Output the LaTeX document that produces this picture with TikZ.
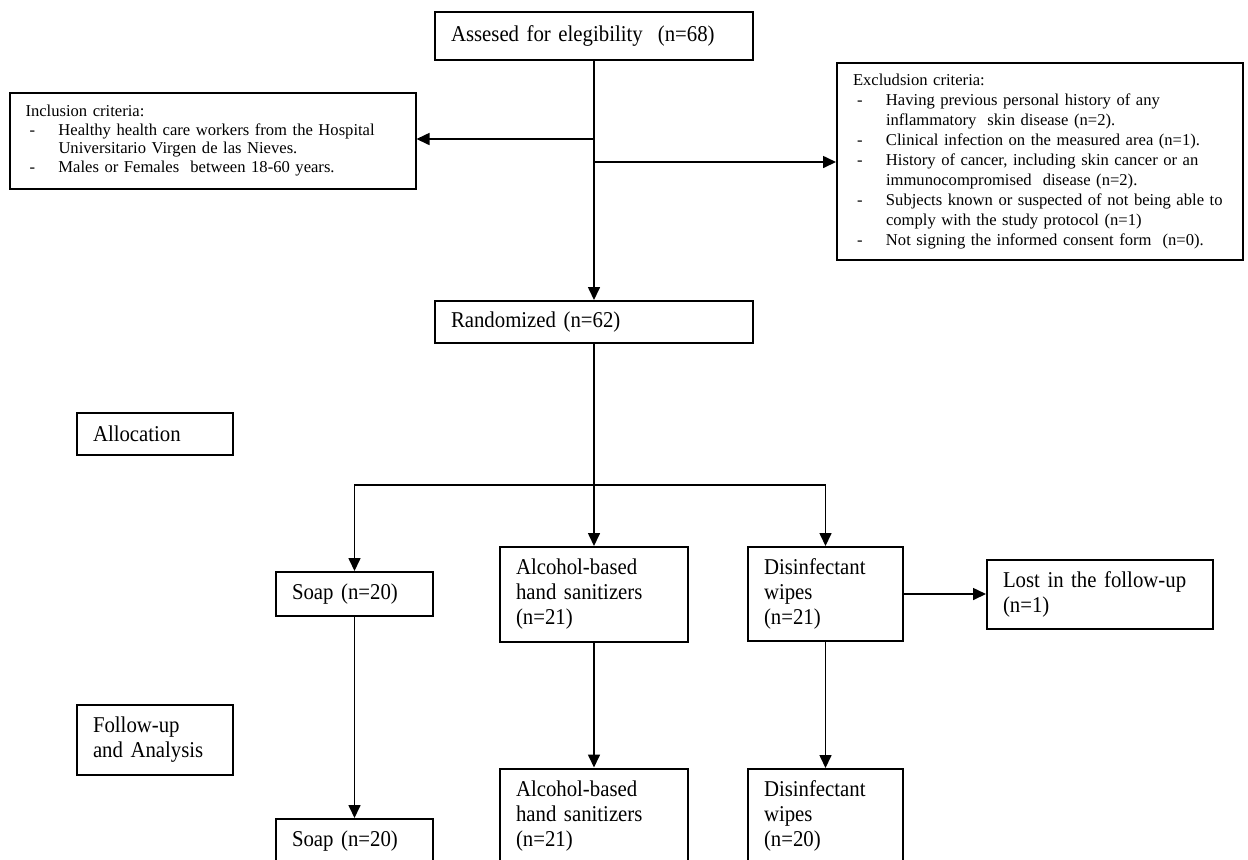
\documentclass[tikz,border=0pt]{standalone}
\usepackage{fontspec}
\setmainfont{Liberation Serif}
\newfontfamily\boxfont[FakeStretch=0.92]{Liberation Serif}
\usetikzlibrary{arrows.meta}
\newcommand{\critdash}{\makebox[16.5pt][l]{\hspace{2pt}-}}
\newcommand{\critgap}{\hspace*{16.5pt}}

\begin{document}
\begin{tikzpicture}[x=0.5pt, y=-0.5pt,
    box/.style={draw, line width=1pt, inner xsep=8pt, inner ysep=0pt, align=left,
        font=\boxfont\fontsize{11.3}{12.5}\selectfont},
    crit/.style={box, font=\rmfamily\fontsize{8.3}{10}\selectfont},
    arw/.style={line width=0.8pt, -{Triangle[length=6.5pt,width=6pt]}}]
    \useasboundingbox (0,0) rectangle (1248,859);
    \clip (0,0) rectangle (1248,859);

    % screening
    \node[box, text width=143pt, minimum height=24pt] (assess) at (594,36)
        {Assesed for elegibility\ \ (n=68)};
    \node[crit, font=\rmfamily\fontsize{8.3}{9.2}\selectfont, text width=187pt, minimum height=48pt] (incl) at (212.5,140.5)
        {Inclusion criteria:\\
        \critdash Healthy health care workers from the Hospital\\
        \critgap Universitario Virgen de las Nieves.\\
        \critdash Males or Females\ \ between 18-60 years.};
    \node[crit, text width=187pt, minimum height=98.5pt] (excl) at (1040,161.5)
        {Excludsion criteria:\\
        \critdash Having previous personal history of any\\
        \critgap inflammatory\ \ skin disease (n=2).\\
        \critdash Clinical infection on the measured area (n=1).\\
        \critdash History of cancer, including skin cancer or an\\
        \critgap immunocompromised\ \ disease (n=2).\\
        \critdash Subjects known or suspected of not being able to\\
        \critgap comply with the study protocol (n=1)\\
        \critdash Not signing the informed consent form\ \ (n=0).};
    \node[box, text width=143pt, minimum height=21pt] (rand) at (594,322) {Randomized (n=62)};

    % allocation
    \node[box, text width=62pt, minimum height=21pt] (alloc) at (155,434) {Allocation};
    \node[box, text width=62.5pt, minimum height=22pt] (soap1) at (354.5,594) {Soap (n=20)};
    \node[box, text width=78pt, minimum height=47.5pt] (alc1) at (594,594.5)
        {Alcohol-based\\hand sanitizers\\(n=21)};
    \node[box, text width=61.5pt, minimum height=47pt] (dis1) at (825.5,594)
        {Disinfectant\\wipes\\(n=21)};
    \node[box, text width=97pt, minimum height=34.5pt] (lost) at (1100,594.5)
        {Lost in\ the follow-up\\(n=1)};

    % follow-up
    \node[box, text width=62pt, minimum height=35pt] (follow) at (155,740) {Follow-up\\and Analysis};
    \node[box, text width=62.5pt, minimum height=22pt] (soap2) at (354.5,841) {Soap (n=20)};
    \node[box, text width=78pt, minimum height=47.5pt] (alc2) at (594,816)
        {Alcohol-based\\hand sanitizers\\(n=21)};
    \node[box, text width=61.5pt, minimum height=47pt] (dis2) at (825.5,816)
        {Disinfectant\\wipes\\(n=20)};

    \coordinate (tl) at (594,139);
    \coordinate (tr) at (594,162);
    \coordinate (split) at (594,485);

    \draw[arw] (assess) -- (rand);
    \draw[arw] (tl) -- (incl.east |- tl);
    \draw[arw] (tr) -- (excl.west |- tr);
    \draw[line width=0.8pt] (rand) -- (split);
    \draw[arw] (split) -| (soap1);
    \draw[arw] (split) -- (alc1);
    \draw[arw] (split) -| (dis1);
    \draw[arw] (dis1.east) -- (lost.west |- dis1.east);
    \draw[arw] (soap1) -- (soap2);
    \draw[arw] (alc1) -- (alc2);
    \draw[arw] (dis1) -- (dis2);
\end{tikzpicture}
\end{document}
